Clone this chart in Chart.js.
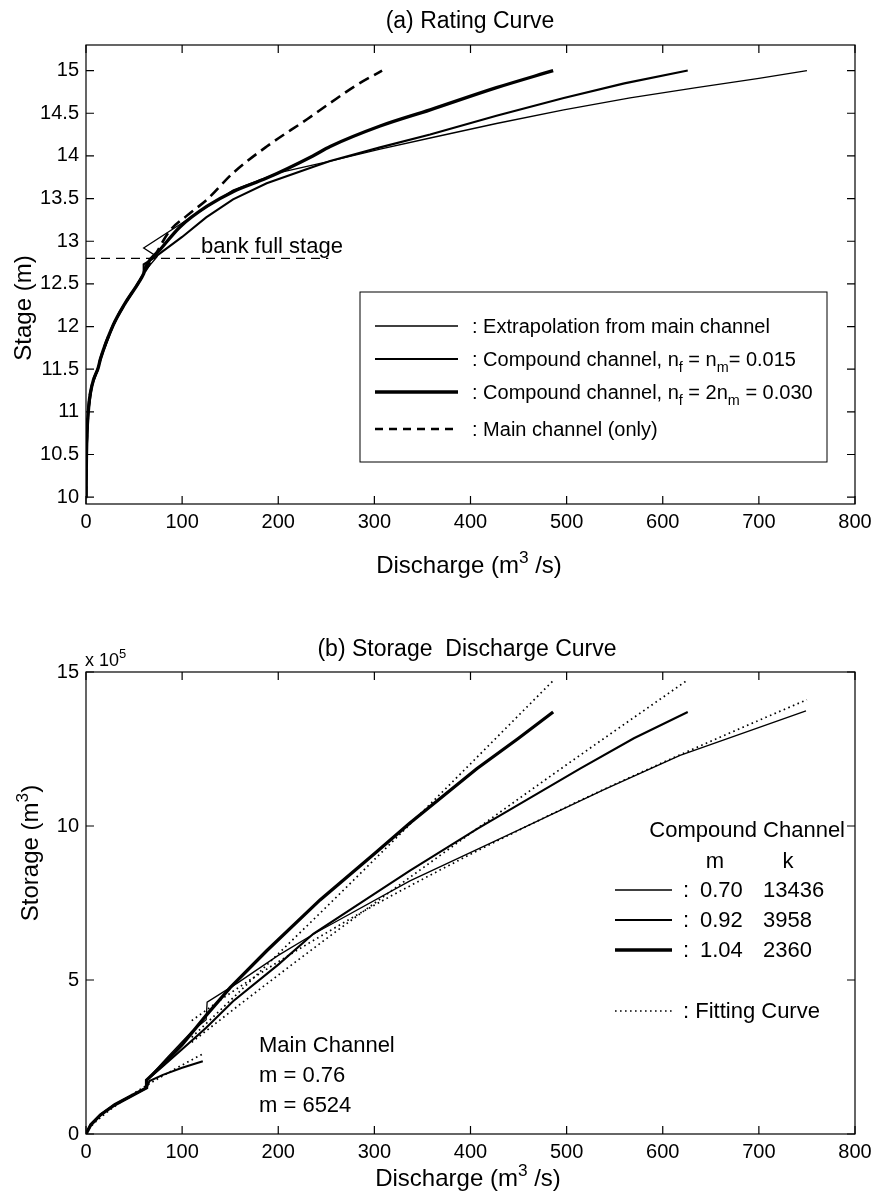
<!DOCTYPE html>
<html>
<head>
<meta charset="utf-8">
<script src="https://cdn.jsdelivr.net/npm/chart.js@4.4.0/dist/chart.umd.min.js"></script>
<style>
  body { margin: 0; background: #fff; width: 874px; height: 1193px; position: relative; overflow: hidden; }
  canvas { position: absolute; left: 0; }
</style>
</head>
<body>
<canvas id="ratingChart" width="874" height="600" style="top:0"></canvas>
<canvas id="storageChart" width="874" height="573" style="top:620px"></canvas>
<script>
// ---------- (a) rating curve: discharge (m3/s) against stage (m) ----------
const lowQ = [0, 0.5, 2.4, 6, 12.8, 15, 28.4, 40, 54.4, 60];
const lowStage = [10.0, 10.5, 11.0, 11.3, 11.52, 11.62, 12.02, 12.26, 12.51, 12.62];

const extrapQ = [62, 74, 60, 153, 200, 254, 306, 358, 427, 497, 566, 635, 700, 750];
const extrapStage = [12.66, 12.82, 12.92, 13.6, 13.8, 13.94, 14.08, 14.21, 14.38, 14.54, 14.68, 14.8, 14.91, 15.0];

const comp015Q = [60, 70, 100, 125, 153, 188, 236, 254, 306, 358, 427, 497, 560, 626];
const comp015Stage = [12.73, 12.8, 13.05, 13.28, 13.49, 13.68, 13.87, 13.94, 14.1, 14.25, 14.47, 14.68, 14.85, 15.0];

const comp030Q = [63, 77, 98, 126, 153, 188, 236, 254, 306, 358, 427, 486];
const comp030Stage = [12.72, 12.9, 13.17, 13.41, 13.58, 13.74, 14.0, 14.11, 14.35, 14.54, 14.8, 15.0];

const mainOnlyQ = [70, 87, 105, 126, 153, 188, 230, 254, 280, 308];
const mainOnlyStage = [12.8, 13.12, 13.3, 13.49, 13.8, 14.11, 14.43, 14.62, 14.82, 15.0];

const bankFullQ = [0, 252];
const bankFullStage = [12.8, 12.8];

const qTicks = [0, 100, 200, 300, 400, 500, 600, 700, 800];
const stageTicks = [10, 10.5, 11, 11.5, 12, 12.5, 13, 13.5, 14, 14.5, 15];

// ---------- (b) storage-discharge: discharge (m3/s) against storage (x 10^5 m3) ----------
const storLowQ = [0, 5, 15, 30, 45, 60, 63];
const storLow = [0, 0.3, 0.62, 0.95, 1.2, 1.45, 1.5];

const mainStorQ = [66, 80, 100, 121.5];
const mainStor = [1.72, 1.92, 2.15, 2.36];
const mainFitQ = [0, 5, 15, 30, 45, 60, 80, 100, 121.5];
const mainFit = [0, 0.23, 0.53, 0.9, 1.22, 1.52, 1.89, 2.24, 2.6];

const thinStorQ = [63, 85, 110, 125, 126, 157, 200, 240, 337, 452, 540, 618, 749];
const thinStor = [1.75, 2.5, 3.33, 3.71, 4.28, 4.89, 5.8, 6.55, 8.22, 9.9, 11.2, 12.29, 13.74];
const thinFitQ = [110, 150, 200, 250, 300, 350, 400, 500, 600, 700, 750];
const thinFit = [3.68, 4.57, 5.59, 6.53, 7.43, 8.27, 9.08, 10.62, 12.06, 13.43, 14.1];

const medStorQ = [63, 80, 100, 125, 153, 200, 236.5, 300, 337, 406.5, 514, 570, 626];
const medStor = [1.75, 2.2, 2.75, 3.45, 4.31, 5.5, 6.5, 7.8, 8.55, 9.9, 11.86, 12.85, 13.7];
const medFitQ = [110, 150, 200, 250, 300, 400, 500, 624];
const medFit = [2.98, 3.96, 5.16, 6.34, 7.49, 9.76, 11.99, 14.7];

const thickStorQ = [63, 80, 100, 125, 150, 188, 243.5, 300, 337, 406.5, 450, 486];
const thickStor = [1.75, 2.25, 2.9, 3.85, 4.75, 5.95, 7.6, 9.1, 10.1, 11.86, 12.85, 13.7];
const thickFitQ = [110, 150, 200, 250, 300, 350, 400, 450, 486];
const thickFit = [3.14, 4.33, 5.85, 7.37, 8.91, 10.46, 12.02, 13.59, 14.72];

const storTicks = [0, 5, 10, 15];

const FONT = '"Liberation Sans", Arial, Helvetica, sans-serif';

function pts(xs, ys) {
    return xs.map((x, i) => ({ x: x, y: ys[i] }));
}

function line(label, data, width, dash, extra) {
    return Object.assign({
        label: label, data: data, showLine: true,
        borderColor: '#000', backgroundColor: '#000',
        borderWidth: width, borderDash: dash || [],
        pointRadius: 0, tension: 0, fill: false
    }, extra || {});
}

// text with super/subscripts: parts = [[text, shift]], shift 1 = sup, -1 = sub
function richText(ctx, parts, x, y, size, align) {
    let w = 0;
    parts.forEach(p => {
        ctx.font = (p[1] ? size * 0.72 : size) + 'px ' + FONT;
        w += ctx.measureText(p[0]).width;
    });
    let cx = align === 'center' ? x - w / 2 : align === 'right' ? x - w : x;
    ctx.textAlign = 'left';
    ctx.textBaseline = 'alphabetic';
    ctx.fillStyle = '#000';
    parts.forEach(p => {
        ctx.font = (p[1] ? size * 0.72 : size) + 'px ' + FONT;
        const dy = p[1] === 1 ? -size * 0.42 : p[1] === -1 ? size * 0.3 : 0;
        ctx.fillText(p[0], cx, y + dy);
        cx += ctx.measureText(p[0]).width;
    });
}

function sample(ctx, ds, x0, x1, y) {
    ctx.save();
    ctx.strokeStyle = '#000';
    ctx.lineWidth = ds.borderWidth;
    ctx.setLineDash(ds.legendDash || ds.borderDash || []);
    ctx.beginPath();
    ctx.moveTo(x0, y);
    ctx.lineTo(x1, y);
    ctx.stroke();
    ctx.restore();
}

// matlab style box with inward ticks on all four sides
const framePlugin = {
    id: 'frame',
    afterDraw(chart) {
        const { ctx, chartArea: a, scales: { x, y } } = chart;
        ctx.save();
        ctx.strokeStyle = '#000';
        ctx.lineWidth = 1.2;
        ctx.strokeRect(a.left, a.top, a.right - a.left, a.bottom - a.top);
        ctx.beginPath();
        x.ticks.forEach(t => {
            const px = x.getPixelForValue(t.value);
            ctx.moveTo(px, a.bottom); ctx.lineTo(px, a.bottom - 8);
            ctx.moveTo(px, a.top); ctx.lineTo(px, a.top + 8);
        });
        y.ticks.forEach(t => {
            const py = y.getPixelForValue(t.value);
            ctx.moveTo(a.left, py); ctx.lineTo(a.left + 8, py);
            ctx.moveTo(a.right, py); ctx.lineTo(a.right - 8, py);
        });
        ctx.stroke();
        ctx.restore();
    }
};

function axes(xTicks, yTicks, yMin, yMax, xHeight, xPad) {
    const tickFont = { family: FONT, size: 20 };
    return {
        x: {
            type: 'linear', min: 0, max: 800,
            afterBuildTicks: s => { s.ticks = xTicks.map(v => ({ value: v })); },
            afterFit: s => { s.height = xHeight; s.paddingLeft = 0; s.paddingRight = 0; },
            grid: { display: false, drawTicks: false },
            border: { display: false },
            ticks: { font: tickFont, color: '#000', padding: xPad, maxRotation: 0, callback: v => String(v) }
        },
        y: {
            type: 'linear', min: yMin, max: yMax,
            afterBuildTicks: s => { s.ticks = yTicks.map(v => ({ value: v })); },
            afterFit: s => { s.width = 86; },
            grid: { display: false, drawTicks: false },
            border: { display: false },
            ticks: { font: tickFont, color: '#000', padding: 7, callback: v => String(v) }
        }
    };
}

const baseOptions = (sc, top) => ({
    responsive: false,
    animation: false,
    layout: { padding: { left: 0, right: 19, top: top, bottom: 0 } },
    plugins: { legend: { display: false }, tooltip: { enabled: false }, title: { display: false } },
    scales: sc
});

// ---------- chart (a) ----------
const ratingSets = [
    line('Extrapolation from main channel', pts(lowQ.concat(extrapQ), lowStage.concat(extrapStage)), 1.3),
    line('Compound channel, nf = nm = 0.015', pts(lowQ.concat(comp015Q), lowStage.concat(comp015Stage)), 2.1),
    line('Compound channel, nf = 2nm = 0.030', pts(lowQ.concat(comp030Q), lowStage.concat(comp030Stage)), 3.3,
        [], { cubicInterpolationMode: 'monotone' }),
    line('Main channel (only)', pts(lowQ.concat(mainOnlyQ), lowStage.concat(mainOnlyStage)), 2.6, [11, 6],
        { legendDash: [8, 6], borderCapStyle: 'butt', cubicInterpolationMode: 'monotone' }),
    line('bank full stage', pts(bankFullQ, bankFullStage), 1.2, [9, 6])
];

const ratingNotes = {
    id: 'ratingNotes',
    afterDraw(chart) {
        const ctx = chart.ctx;
        const ds = chart.data.datasets;
        ctx.save();
        richText(ctx, [['(a) Rating Curve', 0]], 470, 28, 23, 'center');
        richText(ctx, [['Discharge (m', 0], ['3', 1], [' /s)', 0]], 469, 573, 24, 'center');
        ctx.save();
        ctx.translate(31, 308);
        ctx.rotate(-Math.PI / 2);
        richText(ctx, [['Stage (m)', 0]], 0, 0, 24, 'center');
        ctx.restore();
        richText(ctx, [['bank full stage', 0]], 201, 253, 22, 'left');

        // legend box
        ctx.strokeStyle = '#000';
        ctx.lineWidth = 1;
        ctx.strokeRect(360, 292, 467, 170);
        const base = [333, 366, 399, 436];
        const texts = [
            [[': Extrapolation from main channel', 0]],
            [[': Compound channel, n', 0], ['f', -1], [' = n', 0], ['m', -1], ['= 0.015', 0]],
            [[': Compound channel, n', 0], ['f', -1], [' = 2n', 0], ['m', -1], [' = 0.030', 0]],
            [[': Main channel (only)', 0]]
        ];
        for (let i = 0; i < 4; i++) {
            sample(ctx, ds[i], 375, 458, base[i] - 7);
            richText(ctx, texts[i], 472, base[i], 20, 'left');
        }
        ctx.restore();
    }
};

new Chart(document.getElementById('ratingChart'), {
    type: 'scatter',
    data: { datasets: ratingSets },
    options: baseOptions(axes(qTicks, stageTicks, 9.92, 15.3, 96, 6), 45),
    plugins: [framePlugin, ratingNotes]
});

// ---------- chart (b) ----------
const fitStyle = { cubicInterpolationMode: 'monotone' };
const storageSets = [
    line('0.70 13436', pts(storLowQ.concat(thinStorQ), storLow.concat(thinStor)), 1.3),
    line('0.92 3958', pts(storLowQ.concat(medStorQ), storLow.concat(medStor)), 2.1),
    line('1.04 2360', pts(storLowQ.concat(thickStorQ), storLow.concat(thickStor)), 3.3),
    line('Fitting Curve', pts(thinFitQ, thinFit), 1.7, [1.6, 3.4], fitStyle),
    line('fit 0.92', pts(medFitQ, medFit), 1.7, [1.6, 3.4], fitStyle),
    line('fit 1.04', pts(thickFitQ, thickFit), 1.7, [1.6, 3.4], fitStyle),
    line('Main Channel', pts(storLowQ.concat(mainStorQ), storLow.concat(mainStor)), 2.1),
    line('Main fit', pts(mainFitQ, mainFit), 1.7, [1.6, 3.4], fitStyle)
];

const storageNotes = {
    id: 'storageNotes',
    afterDraw(chart) {
        const ctx = chart.ctx;
        const ds = chart.data.datasets;
        ctx.save();
        richText(ctx, [['(b) Storage  Discharge Curve', 0]], 467, 36, 23, 'center');
        richText(ctx, [['x 10', 0], ['5', 1]], 85, 46, 18, 'left');
        richText(ctx, [['Discharge (m', 0], ['3', 1], [' /s)', 0]], 468, 566, 24, 'center');
        ctx.save();
        ctx.translate(38, 233);
        ctx.rotate(-Math.PI / 2);
        richText(ctx, [['Storage (m', 0], ['3', 1], [')', 0]], 0, 0, 24, 'center');
        ctx.restore();

        // compound channel legend
        richText(ctx, [['Compound Channel', 0]], 845, 217, 22, 'right');
        richText(ctx, [['m', 0]], 715, 248, 22, 'center');
        richText(ctx, [['k', 0]], 788, 248, 22, 'center');
        const rowY = [270, 300, 330];
        const mVals = ['0.70', '0.92', '1.04'];
        const kVals = ['13436', '3958', '2360'];
        for (let i = 0; i < 3; i++) {
            sample(ctx, ds[i], 615, 672, rowY[i]);
            richText(ctx, [[':', 0]], 683, rowY[i] + 7, 22, 'left');
            richText(ctx, [[mVals[i], 0]], 700, rowY[i] + 7, 22, 'left');
            richText(ctx, [[kVals[i], 0]], 763, rowY[i] + 7, 22, 'left');
        }
        sample(ctx, ds[3], 615, 672, 391);
        richText(ctx, [[': Fitting Curve', 0]], 683, 398, 22, 'left');

        richText(ctx, [['Main Channel', 0]], 259, 432, 22, 'left');
        richText(ctx, [['m = 0.76', 0]], 259, 462, 22, 'left');
        richText(ctx, [['m = 6524', 0]], 259, 492, 22, 'left');
        ctx.restore();
    }
};

new Chart(document.getElementById('storageChart'), {
    type: 'scatter',
    data: { datasets: storageSets },
    options: baseOptions(axes(qTicks, storTicks, 0, 15, 59, 6), 52),
    plugins: [framePlugin, storageNotes]
});
</script>
</body>
</html>
